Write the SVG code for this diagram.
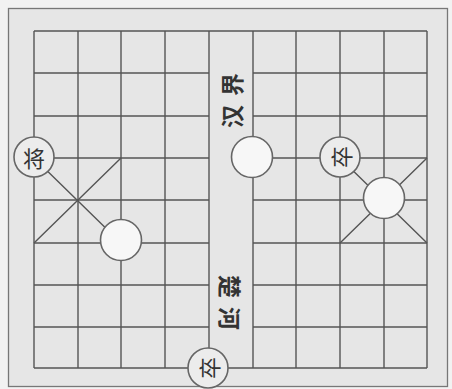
<svg xmlns="http://www.w3.org/2000/svg" width="452" height="389" viewBox="0 0 452 389">
<style>
.grid{stroke:#555;stroke-width:1.4;fill:none}
.frame{stroke:#777;stroke-width:1.3;fill:#e6e6e6}
.pc{stroke:#666;stroke-width:1.6}
.pt{fill:#ececec}
.pw{fill:#f7f7f7}
.lbl{font-family:"Noto Sans CJK SC","Noto Sans CJK JP",sans-serif;font-size:22px;fill:#333;text-anchor:middle;dominant-baseline:central}
.river{font-family:"Noto Sans CJK SC","Noto Sans CJK JP",sans-serif;font-size:23px;font-weight:bold;fill:#333;text-anchor:middle;dominant-baseline:central;letter-spacing:9px}
</style>
<rect x="0" y="0" width="452" height="389" fill="#f2f2f2"/>
<rect class="frame" x="8.5" y="8.5" width="439" height="378"/>
<g id="connectors" class="grid">
<path d="M34 31H427M34 368H427"/>
<path d="M34 73H209M253 73H427M34 116H209M253 116H427M34 158H209M253 158H427M34 200H209M253 200H427M34 243H209M253 243H427M34 285H209M253 285H427M34 327H209M253 327H427"/>
<path d="M34 31V368M78 31V368M121 31V368M165 31V368M209 31V368M253 31V368M296 31V368M340 31V368M384 31V368M427 31V368"/>
<path d="M34 158L121 243M121 158L34 243M340 158L427 243M427 158L340 243"/>
</g>
<g id="river-han">
<text class="river" transform="translate(231,96) rotate(-90)">汉界</text>
</g>
<g id="river-chu">
<text class="river" transform="translate(231,307) rotate(90)">楚河</text>
</g>
<g id="jiang">
<circle class="pc pt" cx="34" cy="157" r="20"/>
<text class="lbl" x="34" y="157">将</text>
</g>
<g id="piece-a">
<circle class="pc pw" cx="121" cy="240" r="20.5"/>
</g>
<g id="piece-b">
<circle class="pc pw" cx="252" cy="157" r="20.5"/>
</g>
<g id="zu-1">
<circle class="pc pt" cx="340" cy="157" r="20"/>
<text class="lbl" transform="translate(340,157) rotate(-90)">卒</text>
</g>
<g id="shuai">
<circle class="pc pw" cx="384" cy="198" r="20.5"/>
</g>
<g id="zu-2">
<circle class="pc pt" cx="208" cy="368" r="20"/>
<text class="lbl" transform="translate(208,368) rotate(-90)">卒</text>
</g>
</svg>
